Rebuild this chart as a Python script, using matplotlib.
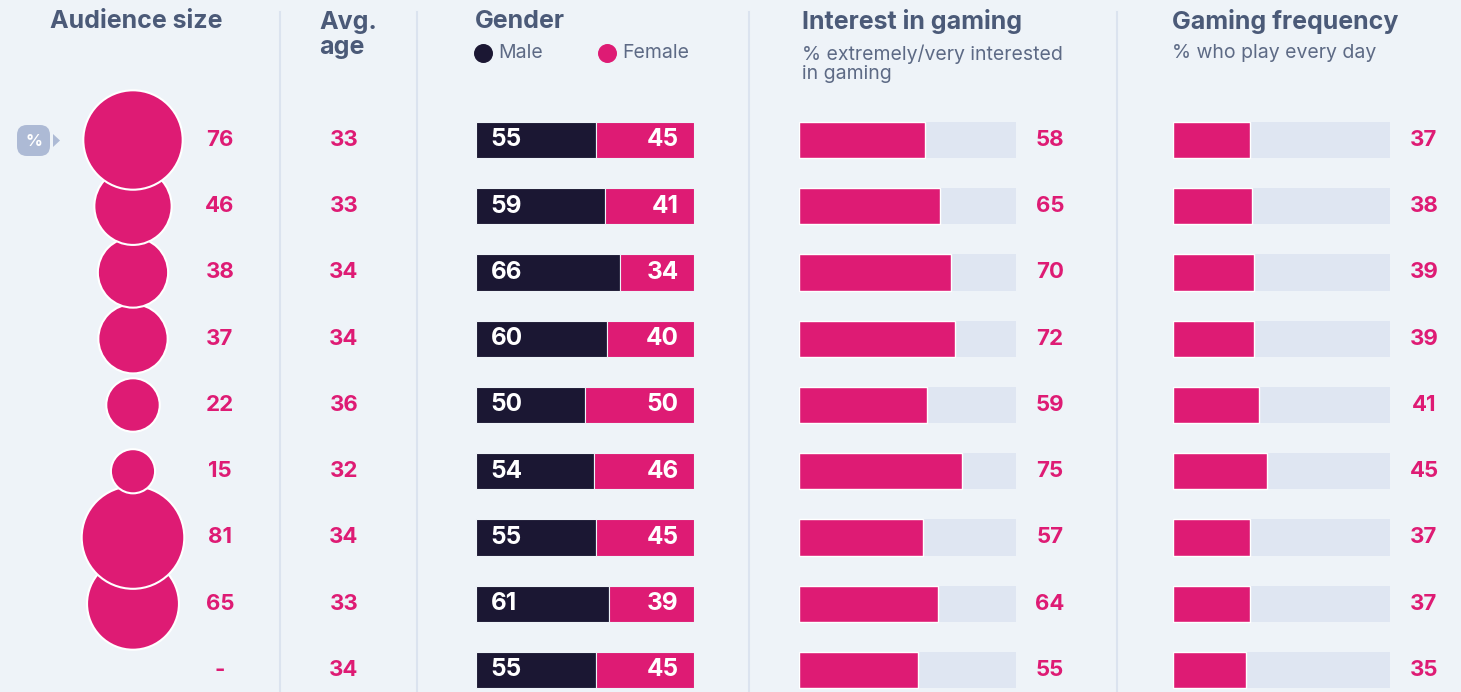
import numpy as np
import matplotlib.pyplot as plt
from matplotlib.patches import FancyBboxPatch, Polygon

# data
audience = [76, 46, 38, 37, 22, 15, 81, 65, None]
avg_age = [33, 33, 34, 34, 36, 32, 34, 33, 34]
male = [55, 59, 66, 60, 50, 54, 55, 61, 55]
female = [45, 41, 34, 40, 50, 46, 45, 39, 45]
interest = [58, 65, 70, 72, 59, 75, 57, 64, 55]
frequency = [37, 38, 39, 39, 41, 45, 37, 37, 35]

BG = "#eef3f8"
PINK = "#de1b74"
NAVY = "#1b1733"
TRACK = "#dfe6f2"
SLATE = "#4b5a78"
SUB = "#5d6a85"
LINE = "#dbe3ef"
FONT = "Inter"

W, H = 1461, 692
ROW0, STEP = 140, 66.25
n = len(male)
rows = np.arange(n)

fig = plt.figure(figsize=(W / 100, H / 100), dpi=100, facecolor=BG)
bg = fig.add_axes([0, 0, 1, 1])
bg.set_xlim(0, W)
bg.set_ylim(H, 0)
bg.axis("off")


def panel(x0, x1, xlim):
    top = ROW0 - STEP / 2
    bot = top + STEP * n
    ax = fig.add_axes([x0 / W, 1 - bot / H, (x1 - x0) / W, (bot - top) / H])
    ax.set_xlim(*xlim)
    ax.set_ylim(n - 0.5, -0.5)
    ax.axis("off")
    ax.patch.set_alpha(0)
    return ax


# dividers
for x in [280, 417, 749, 1117]:
    bg.plot([x, x], [12, H], color=LINE, lw=1.5)

# headers
hd = dict(color=SLATE, fontsize=18, fontweight="bold", family=FONT, va="center")
bg.text(136, 21, "Audience size", ha="center", **hd)
bg.text(319, 35, "Avg.\nage", ha="left", linespacing=1.1, **hd)
bg.text(475, 21, "Gender", ha="left", **hd)
bg.text(802, 21, "Interest in gaming", ha="left", **hd)
bg.text(1172, 21, "Gaming frequency", ha="left", **hd)
sb = dict(color=SUB, fontsize=14, family=FONT, va="center", ha="left")
bg.text(802, 64, "% extremely/very interested\nin gaming", linespacing=1.1, **sb)
bg.text(1172, 53, "% who play every day", **sb)

# legend
bg.scatter([483], [53], s=160, color=NAVY, zorder=3)
bg.text(498, 53, "Male", **sb)
bg.scatter([607], [53], s=160, color=PINK, zorder=3)
bg.text(622, 53, "Female", **sb)

# % badge
bg.add_patch(FancyBboxPatch((17, 125), 33, 31, boxstyle="round,pad=0,rounding_size=10",
                            color="#adbad5", lw=0))
bg.add_patch(Polygon([[53, 134], [53, 147], [60, 140.5]], color="#adbad5", lw=0))
bg.text(33.5, 141, "%", color="white", fontsize=12, fontweight="bold", family=FONT,
        ha="center", va="center")

val = dict(color=PINK, fontsize=16, fontweight="bold", family=FONT, va="center")

# audience bubbles (earlier rows on top)
axb = panel(0, 280, (0, 280))
aud = np.array([np.nan if a is None else a for a in audience], dtype=float)
order = rows[::-1]
axb.scatter(np.full(n, 133)[order], rows[order], s=aud[order] * 67.4, color=PINK,
            edgecolor="white", linewidth=1.5, zorder=2, clip_on=False)
for i, a in enumerate(audience):
    axb.text(220, i, "-" if a is None else str(a), ha="center", **val)

# avg age
axa = panel(280, 417, (280, 417))
for i, a in enumerate(avg_age):
    axa.text(344, i, str(a), ha="center", **val)

# gender
axg = panel(476, 694, (0, 100))
axg.barh(rows, male, height=0.545, color=NAVY, edgecolor=BG, linewidth=0.8)
axg.barh(rows, female, left=male, height=0.545, color=PINK, edgecolor=BG, linewidth=0.8)
for i in rows:
    axg.annotate(str(male[i]), (0, i), xytext=(10.5, 0), textcoords="offset points",
                 ha="left", va="center", color="white", fontsize=17.5, fontweight="bold", family=FONT)
    axg.annotate(str(female[i]), (100, i), xytext=(-11, 0), textcoords="offset points",
                 ha="right", va="center", color="white", fontsize=17.5, fontweight="bold", family=FONT)


def track_panel(x0, x1, values, full):
    ax = panel(x0, x1, (0, full))
    ax.barh(rows, [full] * n, height=0.545, color=TRACK, lw=0)
    ax.barh(rows, values, height=0.545, color=PINK, edgecolor="white", linewidth=1)
    for i, v in enumerate(values):
        ax.annotate(str(v), (full, i), xytext=(24.5, 0), textcoords="offset points",
                    ha="center", **val)
    return ax


track_panel(799, 1016, interest, 100)
track_panel(1173, 1390, frequency, 104)

fig.savefig("out.png", dpi=100, facecolor=BG)
